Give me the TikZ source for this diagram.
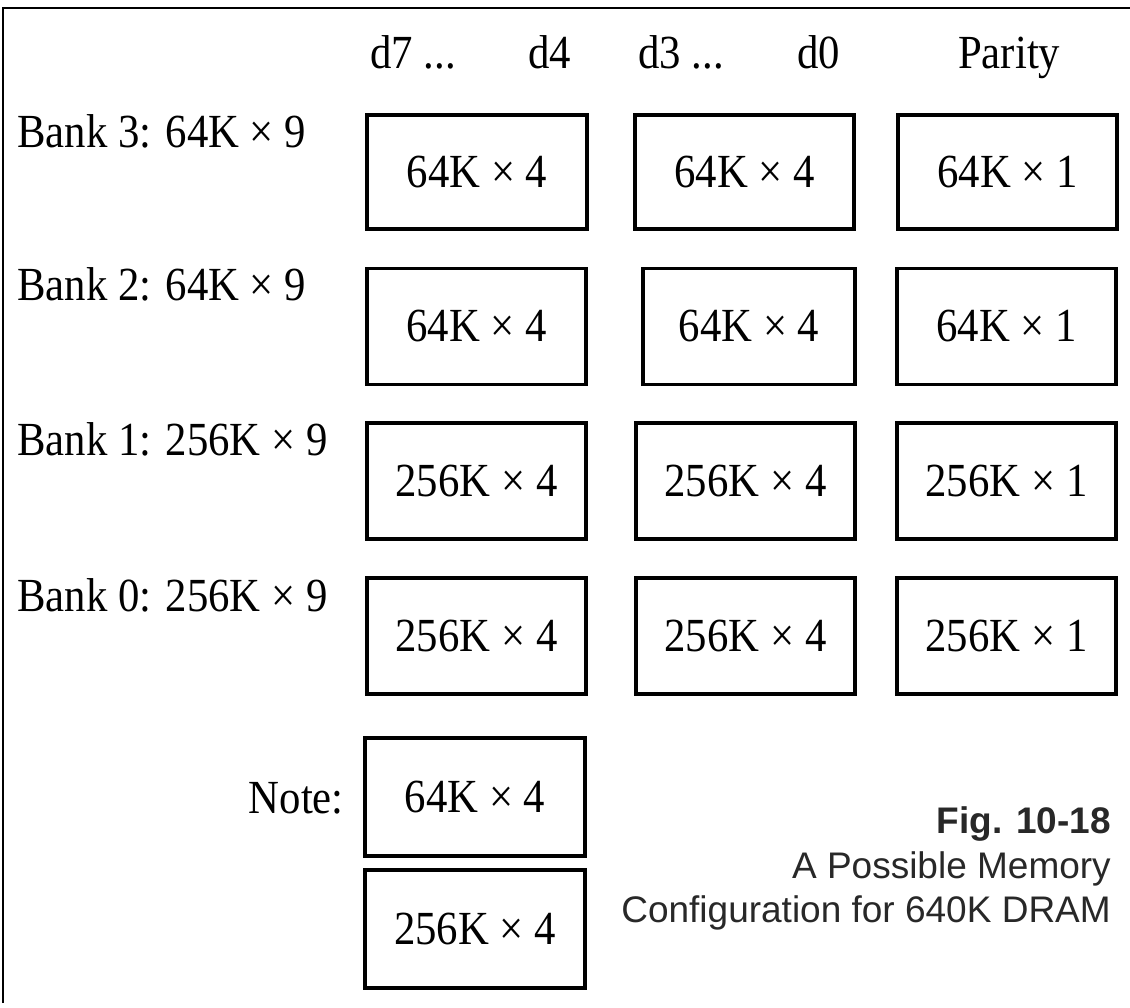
\documentclass[tikz,border=0pt]{standalone}
\usepackage{fontspec}
\setmainfont{Liberation Serif}[FakeStretch=0.9]
\newfontfamily\capfont{Liberation Sans}
\definecolor{capgray}{RGB}{40,40,40}
\begin{document}
\begin{tikzpicture}[x=1pt,y=-1pt,
  chip/.style={draw, line width=3.5pt, inner sep=0pt, font=\fontsize{47.5}{54}\selectfont},
  lbl/.style={inner sep=0pt, font=\fontsize{47.5}{54}\selectfont},
  captext/.style={inner sep=0pt, text=capgray, font=\capfont\fontsize{37}{44}\selectfont}]
\fill[white] (0,0) rectangle (1130,1007);
\useasboundingbox (0,0) rectangle (1130,1007);
\coordinate (fa) at (3,1003);
\coordinate (fb) at (3,8);
\coordinate (fc) at (1130,8);
\draw[line width=2pt] (fa) -- (fb) -- (fc);
% header
\node[lbl, anchor=base west] (h1) at (370,68) {d7 ...};
\node[lbl, anchor=base west] (h2) at (528,68) {d4};
\node[lbl, anchor=base west] (h3) at (638,68) {d3 ...};
\node[lbl, anchor=base west] (h4) at (797,68) {d0};
\node[lbl, anchor=base west] (h5) at (958,68) {Parity};
% bank labels
\node[lbl, anchor=base west] (l3) at (17,147) {Bank 3: 64K × 9};
\node[lbl, anchor=base west] (l2) at (17,300) {Bank 2: 64K × 9};
\node[lbl, anchor=base west] (l1) at (17,455) {Bank 1: 256K × 9};
\node[lbl, anchor=base west] (l0) at (17,611) {Bank 0: 256K × 9};
% row 3
\node[chip, minimum width=220pt, minimum height=114pt] (b3a) at (477,172) {64K × 4};
\node[chip, minimum width=219pt, minimum height=114pt] (b3b) at (744.5,172) {64K × 4};
\node[chip, minimum width=219pt, minimum height=114pt] (b3c) at (1007.5,172) {64K × 1};
% row 2
\node[chip, minimum width=219pt, minimum height=116pt] (b2a) at (476.5,326.5) {64K × 4};
\node[chip, minimum width=212pt, minimum height=116pt] (b2b) at (749,326.5) {64K × 4};
\node[chip, minimum width=219pt, minimum height=116pt] (b2c) at (1006.5,326.5) {64K × 1};
% row 1
\node[chip, minimum width=219pt, minimum height=116pt] (b1a) at (476.5,481) {256K × 4};
\node[chip, minimum width=219pt, minimum height=116pt] (b1b) at (745.5,481) {256K × 4};
\node[chip, minimum width=219pt, minimum height=116pt] (b1c) at (1006.5,481) {256K × 1};
% row 0
\node[chip, minimum width=219pt, minimum height=116pt] (b0a) at (476.5,636) {256K × 4};
\node[chip, minimum width=219pt, minimum height=116pt] (b0b) at (745.5,636) {256K × 4};
\node[chip, minimum width=219pt, minimum height=116pt] (b0c) at (1006.5,636) {256K × 1};
% note
\node[lbl, anchor=base east] (note) at (344,813) {Note:};
\node[chip, minimum width=220pt, minimum height=118pt] (n1) at (475,797) {64K × 4};
\node[chip, minimum width=220pt, minimum height=118pt] (n2) at (475,929) {256K × 4};
% caption
\node[captext, anchor=base east] (c1) at (1111,833) {\bfseries Fig. 10-18};
\node[captext, anchor=base east] (c2) at (1111,878) {A Possible Memory};
\node[captext, anchor=base east] (c3) at (1111,922) {Configuration for 640K DRAM};
\end{tikzpicture}
\end{document}
